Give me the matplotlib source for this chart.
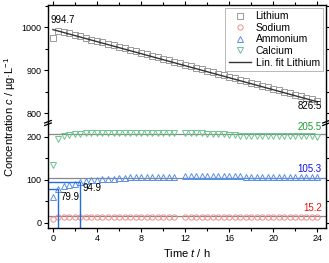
import matplotlib
matplotlib.use("Agg")
import matplotlib.pyplot as plt
from matplotlib.ticker import MultipleLocator
import numpy as np

plt.rcParams["font.family"] = ["Liberation Sans", "DejaVu Sans"]
plt.rcParams["mathtext.fontset"] = "custom"
plt.rcParams["mathtext.it"] = "Liberation Sans:italic"
plt.rcParams["mathtext.rm"] = "Liberation Sans"

# time points (h), every 0.5 h
t_li = np.arange(0, 24.01, 0.5)
lithium = [975, 992, 990, 986, 983, 979, 976, 970, 969, 966, 962, 958, 955, 951, 948,
           944, 941, 937, 934, 930, 927, 923, 920, 916, 913, 909, 905, 902, 898, 895,
           891, 888, 884, 881, 878, 874, 870, 867, 864, 860, 857, 853, 850, 846, 842,
           839, 836, 832, 829]
fit_t = [0, 24]
fit_li = [994.7, 826.5]

# the other ions skip the 11.5 h sample
t_ion = [x for x in t_li if x != 11.5]
sodium = [10] + [14] * 2 + [15] * (len(t_ion) - 3)
ammonium = [60, 79.9, 85, 88, 91, 94.9, 97, 99, 100, 101, 102, 103, 104, 105, 106, 106,
            107, 107, 107, 107, 107, 107, 107, 108, 108, 108, 108, 108, 108, 108, 108,
            108, 108, 108, 107, 107, 107, 107, 107, 107, 106, 106, 106, 106, 106, 106,
            106, 106]
calcium = [135, 195, 203, 205, 206, 207, 208, 208, 209, 209, 209, 208, 208, 208, 208,
           208, 208, 208, 208, 209, 209, 209, 209, 209, 208, 208, 208, 207, 207, 206,
           206, 205, 204, 203, 202, 202, 202, 201, 201, 201, 201, 201, 201, 201, 201,
           201, 201, 200]
means = {"Calcium": 205.5, "Ammonium": 105.3, "Sodium": 15.2}

C_LI, C_NA, C_NH, C_CA = "#9a9a9a", "#f08c8c", "#5a8fe6", "#6cc48e"

W, H = 329, 263
fig = plt.figure(figsize=(W / 100, H / 100), dpi=100)
x0, x1 = 48 / W, 326 / W
ytop, ybrk, ybot = 5 / H, 123 / H, 228 / H
ax_u = fig.add_axes([x0, 1 - ybrk, x1 - x0, ybrk - ytop])
ax_l = fig.add_axes([x0, 1 - ybot, x1 - x0, ybot - ybrk])

mk = dict(linestyle="none", markersize=3.8, markerfacecolor="none", markeredgewidth=0.7)
for ax in (ax_u, ax_l):
    ax.plot(t_li, lithium, "s", color=C_LI, label="Lithium", **mk)
    ax.plot(t_ion, sodium, "o", color=C_NA, label="Sodium", **mk)
    ax.plot(t_ion, ammonium, "^", color=C_NH, label="Ammonium", **mk)
    ax.plot(t_ion, calcium, "v", color=C_CA, label="Calcium", **mk)
    ax.plot(fit_t, fit_li, "-", color="#333333", lw=1.0, label="Lin. fit Lithium")
    ax.set_xlim(-0.45, 24.8)
    ax.xaxis.set_major_locator(MultipleLocator(4))
    ax.xaxis.set_minor_locator(MultipleLocator(2))
    ax.tick_params(which="both", direction="out", top=True, right=True, labelsize=6.5,
                   width=0.8, pad=1.5)
    ax.tick_params(which="major", length=3)
    ax.tick_params(which="minor", length=2)
    for s in ax.spines.values():
        s.set_linewidth(1.0)

for v in means.values():
    ax_l.axhline(v, color="#888888", lw=0.9, zorder=1)
ax_l.plot([12, 24.8], [104.3, 104.3], color=C_NH, lw=0.8, zorder=1)
# markers for 79.9 and 94.9
ax_l.plot([-0.45, 0.5, 0.5], [79.9, 79.9, -11.6], color="#1f6fe0", lw=1.0)
ax_l.plot([-0.45, 2.5, 2.5], [94.9, 94.9, -11.6], color="#1f6fe0", lw=1.0)

ax_u.set_ylim(777, 1052)
ax_u.yaxis.set_major_locator(MultipleLocator(100))
ax_u.yaxis.set_minor_locator(MultipleLocator(50))
ax_u.spines["bottom"].set_visible(False)
ax_u.tick_params(which="both", bottom=False, labelbottom=False)

ax_l.set_ylim(-11.6, 232)
ax_l.yaxis.set_major_locator(MultipleLocator(100))
ax_l.yaxis.set_minor_locator(MultipleLocator(50))
ax_l.spines["top"].set_visible(False)
ax_l.tick_params(which="both", top=False)

# break marks
for xa in (0, 1):
    for dy in (-0.012, 0.012):
        ax_l.plot([xa - 0.012, xa + 0.012], [1 + dy - 0.012, 1 + dy + 0.012],
                  transform=ax_l.transAxes, color="black", lw=0.9, clip_on=False)

fs = 7
ax_u.text(-0.25, 1006, "994.7", fontsize=fs, ha="left", va="bottom")
ax_u.text(24.4, 806, "826.5", fontsize=fs, ha="right", va="bottom")
ax_l.text(24.4, 210, "205.5", fontsize=fs, ha="right", va="bottom", color="#1e9a2e")
ax_l.text(24.4, 113, "105.3", fontsize=fs, ha="right", va="bottom", color="#1010ee")
ax_l.text(24.4, 24, "15.2", fontsize=fs, ha="right", va="bottom", color="#ee1010")
ax_l.text(0.7, 60, "79.9", fontsize=fs, ha="left", va="center")
ax_l.text(2.7, 81, "94.9", fontsize=fs, ha="left", va="center")

leg = ax_u.legend(loc="upper right", fontsize=7.5, frameon=True, fancybox=False,
                  edgecolor="#999999", borderpad=0.3, labelspacing=0.15,
                  handlelength=2.2, handletextpad=0.4, borderaxespad=0.3)
leg.get_frame().set_linewidth(0.6)

ax_l.set_xlabel("Time $t$ / h", fontsize=8, labelpad=2.5)
fig.text(0.03, 1 - (ytop + ybot) / 2, r"Concentration $c$ / µg·L$^{-1}$", rotation=90,
         ha="center", va="center", fontsize=8)

fig.savefig("out.png", dpi=100)
